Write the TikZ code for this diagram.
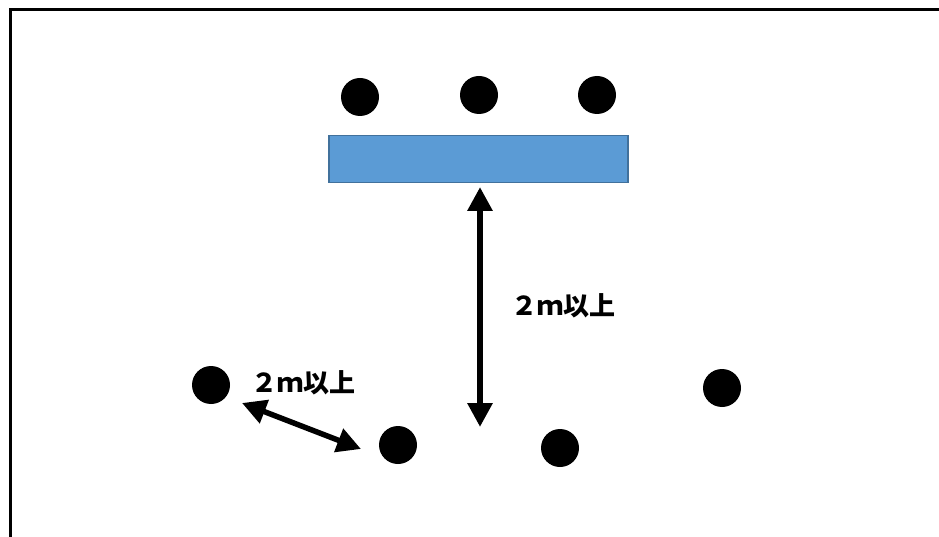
\documentclass[tikz,border=0pt]{standalone}
\usepackage{fontspec}
\newfontfamily\jpfont{Noto Sans CJK JP}
\usetikzlibrary{arrows.meta}
\definecolor{boxblue}{HTML}{5B9BD5}
\definecolor{boxedge}{HTML}{41719C}
\tikzset{
  person/.style={circle,fill=black,minimum size=38pt,inner sep=0pt},
  dim/.style={line width=6pt,{Triangle[length=24pt,width=24pt]}-{Triangle[length=24pt,width=24pt]}},
  lbl/.style={font=\jpfont\bfseries\fontsize{26pt}{26pt}\selectfont,inner sep=0pt,anchor=west}
}
\begin{document}
\begin{tikzpicture}[x=1pt,y=-1pt]
\useasboundingbox (0,0) rectangle (939,537);
\fill[white] (0,0) rectangle (939,537);
\draw[line width=3pt] (10,540) -- (10,10) -- (942,10);
% top row
\node[person] (t1) at (360,97) {};
\node[person] (t2) at (479,95) {};
\node[person] (t3) at (597,95) {};
\node[draw=boxedge,fill=boxblue,line width=1.5pt,minimum width=299pt,minimum height=47pt,inner sep=0pt] (table) at (478.5,159) {};
% bottom dots
\node[person] (b1) at (211,385) {};
\node[person] (b2) at (398,445) {};
\node[person] (b3) at (560,448) {};
\node[person] (b4) at (722,388) {};
% vertical arrow
\coordinate (vtop) at (480,187);
\coordinate (vbot) at (480,427);
\draw[dim] (vtop) -- (vbot);
\node[lbl] (l1) at (511,306) {２ｍ以上};
% diagonal arrow
\coordinate (da) at (242,403);
\coordinate (db) at (361,449);
\draw[dim,line width=5.5pt] (da) -- (db);
\node[lbl] (l2) at (251,383) {２ｍ以上};
\end{tikzpicture}
\end{document}
